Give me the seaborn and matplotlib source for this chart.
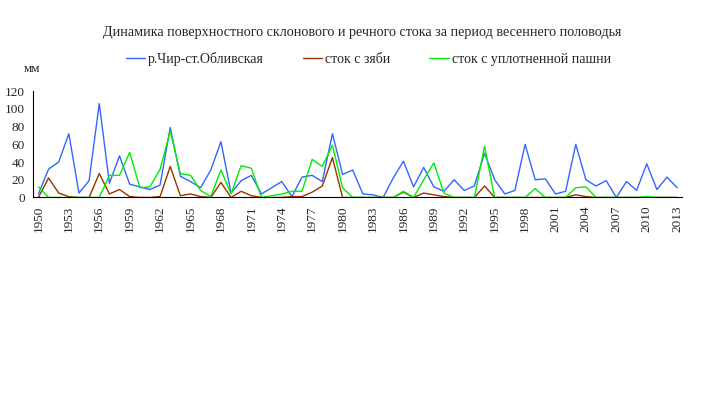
import numpy as np
import pandas as pd
import matplotlib
matplotlib.use("Agg")
import matplotlib.pyplot as plt
import seaborn as sns

years = list(range(1950, 2014))

# р.Чир-ст.Обливская
river = [4, 32, 40, 72, 5, 19, 106, 16, 47, 15,
         12, 9, 14, 79, 24, 18, 11, 31, 63, 5,
         19, 25, 4, 11, 18, 1, 23, 25, 18, 72,
         26, 31, 4, 3, 0, 22, 41, 12, 34, 12,
         7, 20, 8, 13, 50, 20, 4, 8, 60, 20,
         21, 4, 7, 60, 20, 13, 19, 0, 18, 8,
         38, 9, 23, 11]

# сток с зяби
zyab = [0, 22, 5, 1, 0, 0, 27, 4, 9, 1,
        0, 0, 1, 35, 2, 4, 1, 0, 17, 0,
        7, 2, 0, 0, 0, 1, 1, 6, 13, 45,
        0, 0, 0, 0, 0, 0, 6, 0, 5, 3,
        1, 0, 0, 0, 13, 0, 0, 0, 0, 0,
        0, 0, 0, 3, 1, 0, 0, 0, 0, 0,
        0, 0, 0, 0]

# сток с уплотненной пашни
pashnya = [12, 0, 0, 0, 0, 0, 0, 25, 25, 51,
           11, 12, 32, 75, 27, 25, 8, 1, 31, 4,
           36, 33, 0, 2, 4, 7, 7, 43, 35, 59,
           11, 0, 0, 0, 0, 0, 7, 0, 20, 39,
           5, 0, 0, 0, 58, 0, 0, 0, 0, 10,
           0, 0, 0, 11, 12, 0, 0, 0, 0, 0,
           1, 0, 0, 0]

names = ["р.Чир-ст.Обливская", "сток с зяби", "сток с уплотненной пашни"]
colors = ["#3366ff", "#993300", "#00ee00"]

sns.set_style("white")
plt.rcParams["font.family"] = ["Liberation Serif", "DejaVu Serif"]

fig = plt.figure(figsize=(7.25, 3.93), dpi=100)
ax = fig.add_axes([0.046, 0.4975, 0.895, 0.2705])

for vals, name, col in zip([river, zyab, pashnya], names, colors):
    sns.lineplot(x=years, y=vals, color=col, linewidth=1.0, label=name, ax=ax)

ax.set_xlim(1949.5, 2013.5)
ax.set_ylim(0, 120)
ax.set_yticks(range(0, 121, 20))
ax.set_xticks(years[::3])
ax.set_xticklabels([str(y) for y in years[::3]], rotation=90)
ax.set_xticks(np.arange(1949.5, 2014, 1), minor=True)
ax.tick_params(axis="x", which="major", length=0, pad=6, labelsize=9.5)
ax.tick_params(axis="x", which="minor", length=4, width=0.8, color="black", direction="out")
ax.tick_params(axis="y", length=4, width=0.8, color="black", direction="out", labelsize=9.5, pad=2)
ax.set_xlabel("")
ax.set_ylabel("")

for s in ["top", "right"]:
    ax.spines[s].set_visible(False)
for s in ["left", "bottom"]:
    ax.spines[s].set_color("black")
    ax.spines[s].set_linewidth(0.8)

ax.get_legend().remove()
handles, labels = ax.get_legend_handles_labels()
fig.legend(handles, labels, loc="center", bbox_to_anchor=(0.508, 0.85), ncol=3,
           frameon=False, fontsize=10, handlelength=1.4, handletextpad=0.2,
           columnspacing=2.8)

fig.suptitle("Динамика поверхностного склонового и речного стока за период весеннего половодья",
             x=0.5, y=0.935, fontsize=10.2)
fig.text(0.033, 0.817, "мм", fontsize=9.5)

fig.savefig("out.png", dpi=100)
